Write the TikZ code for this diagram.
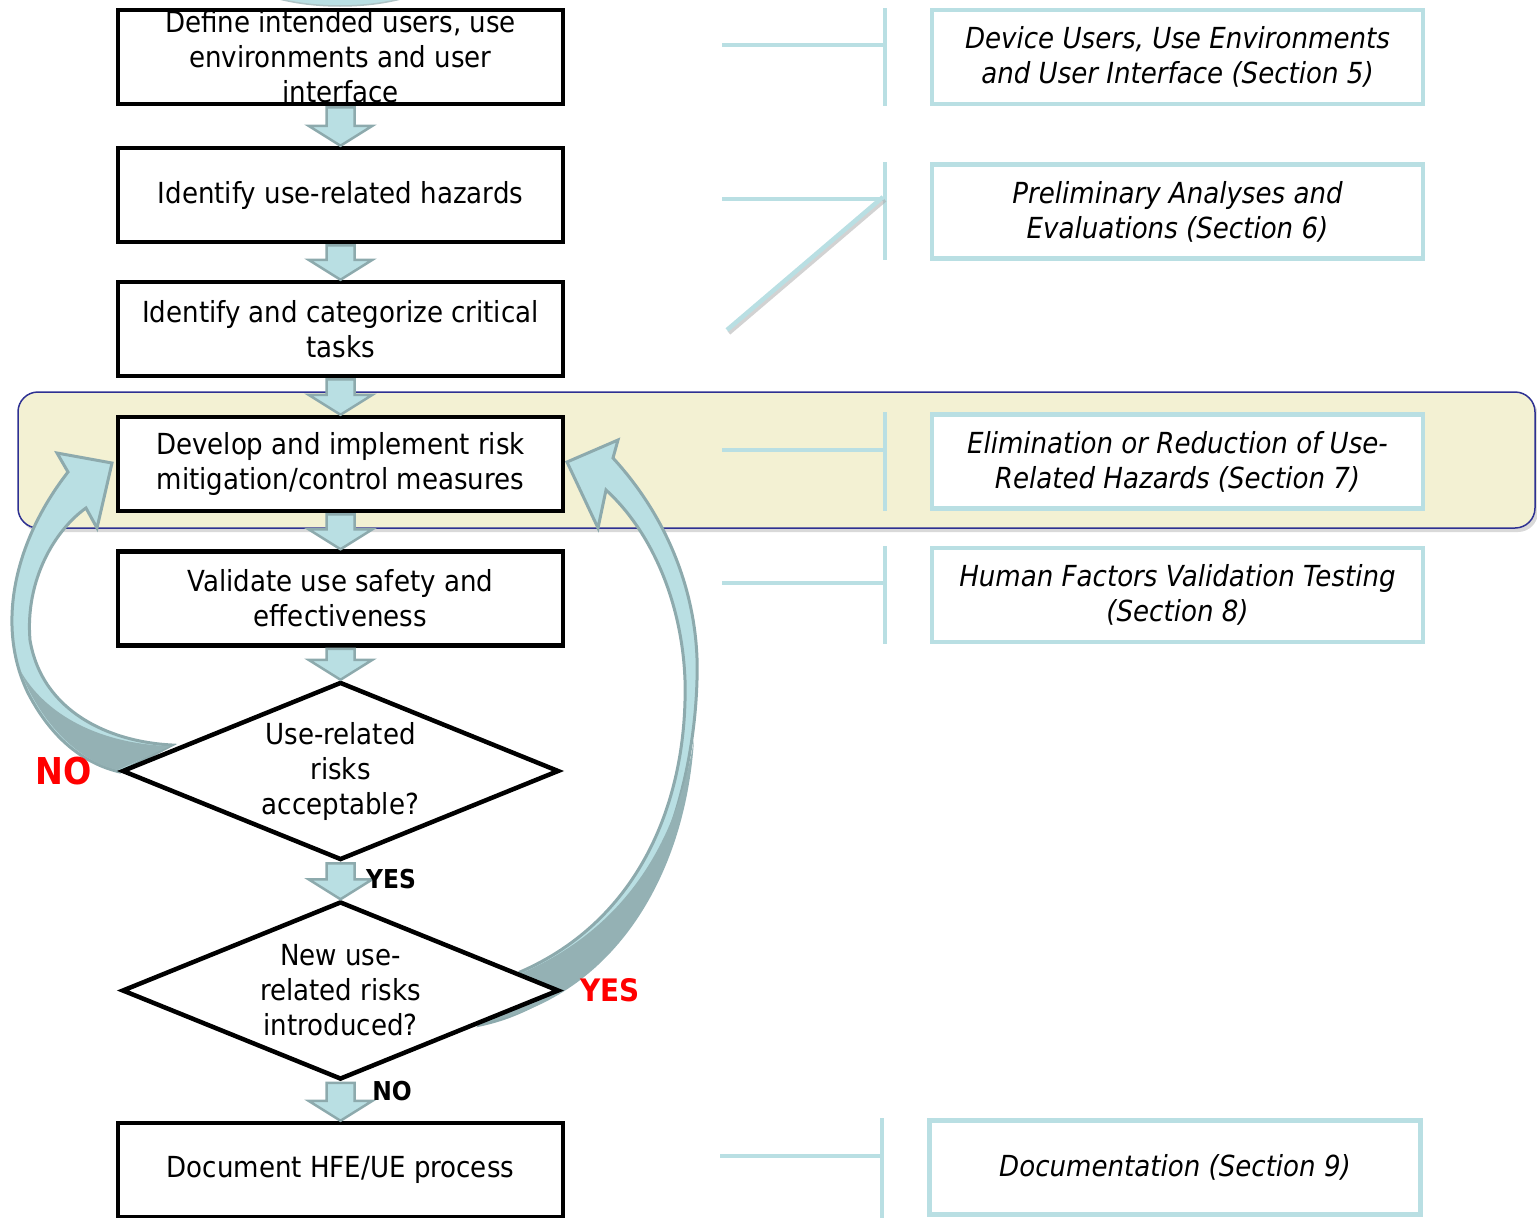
\documentclass[tikz,border=0pt]{standalone}
\usepackage{fontspec}
\setmainfont{DejaVu Sans Condensed}
\usetikzlibrary{shapes.geometric,shadows,calc}
\definecolor{lblue}{HTML}{B9DFE3}
\definecolor{agray}{HTML}{8DAAAD}
\definecolor{adark}{HTML}{94B1B4}
\definecolor{bandfill}{HTML}{F3F1D3}
\definecolor{bandline}{HTML}{2E3192}
\definecolor{nored}{HTML}{FF0000}
\begin{document}
\begin{tikzpicture}[x=1pt,y=-1pt,
  txt/.style={font=\fontsize{29}{35}\selectfont},
  stepbox/.style={txt,draw=black,line width=4.5pt,fill=white,minimum width=445pt,minimum height=94pt,inner xsep=6pt,inner ysep=0pt,align=center},
  dia/.style={txt,diamond,draw=black,line width=4.5pt,fill=white,minimum width=437pt,minimum height=178pt,aspect=2.5,inner sep=0pt,align=center},
  secbox/.style={draw=lblue,line width=4.5pt,fill=white,minimum width=491pt,minimum height=94pt,inner sep=0pt,align=center,font=\fontsize{29}{35}\selectfont\itshape},
  bline/.style={draw=lblue,line width=4.5pt},
  curvearr/.style={fill=lblue,draw=agray,line width=3pt,line join=miter},
  blockarr/.style={fill=lblue,draw=agray,line width=2.5pt,line join=miter,
    to path={let \p1=(\tikztostart),\p2=(\tikztotarget) in
      (\x1-14pt,\y1-1pt) -- (\x1-14pt,\y2+20pt) -- (\x1-32pt,\y2+20pt) -- (\x2,\y2)
      -- (\x1+32pt,\y2+20pt) -- (\x1+14pt,\y2+20pt) -- (\x1+14pt,\y1-1pt) -- cycle}},
  lab/.style={font=\bfseries\fontsize{26}{26}\selectfont,text=black,inner sep=0pt},
  redlab/.style={font=\bfseries\fontsize{#1}{#1}\selectfont,text=nored,inner sep=0pt}
]
\useasboundingbox (0,0) rectangle (1537,1218);

% top partial blob
\begin{scope}
  \clip (0,0) rectangle (1537,1218);
  \fill[lblue] (340,-38) ellipse [x radius=112pt, y radius=44pt];
  \draw[agray!70,line width=1.5pt] (340,-38) ellipse [x radius=112pt, y radius=44pt];
\end{scope}

% yellow band
\node[draw=bandline,line width=1.5pt,fill=bandfill,rounded corners=20pt,
      minimum width=1517pt,minimum height=136pt,
      drop shadow={shadow xshift=3pt,shadow yshift=-4pt,opacity=0.3}] (band) at (776.5,460) {};

% curved arrows
\path[curvearr] (112,463) -- (57,453) -- (68,472)
  .. controls (15,540) and (-5,625) .. (28,693)
  .. controls (55,745) and (90,765) .. (120,772)
  -- (172,745)
  .. controls (110,742) and (42,712) .. (30,640)
  .. controls (25,580) and (55,530) .. (86,508)
  -- (97,528) -- cycle;
\path[fill=adark] (20,670) .. controls (45,735) and (90,765) .. (118,770)
  -- (170,746) .. controls (100,744) and (45,715) .. (20,670) -- cycle;

\path[curvearr] (567,462) -- (618,440) -- (613,458)
  .. controls (670,520) and (700,600) .. (697,680)
  .. controls (693,830) and (620,995) .. (480,1025)
  -- (520,972)
  .. controls (640,920) and (688,800) .. (685,680)
  .. controls (682,600) and (650,530) .. (606,490)
  -- (598,528) -- cycle;
\path[fill=adark] (694,740) .. controls (685,880) and (610,1000) .. (482,1023)
  -- (522,973) .. controls (620,930) and (675,850) .. (694,740) -- cycle;

% left column
\node[stepbox] (b1) at (340.5,57) {Define intended users, use\\environments and user\\interface};
\node[stepbox] (b2) at (340.5,195) {Identify use-related hazards};
\node[stepbox] (b3) at (340.5,329) {Identify and categorize critical\\tasks};
\node[stepbox] (b4) at (340.5,464) {Develop and implement risk\\mitigation/control measures};
\node[stepbox] (b5) at (340.5,598.5) {Validate use safety and\\effectiveness};
\node[dia] (d1) at (340.5,771) {Use-related\\risks\\acceptable?};
\node[dia] (d2) at (340.5,990.5) {New use-\\related risks\\introduced?};
\node[stepbox] (b6) at (340.5,1170) {Document HFE/UE process};

% block arrows
\draw[blockarr] (b1.south) to (b2.north);
\draw[blockarr] (b2.south) to (b3.north);
\draw[blockarr] (b3.south) to (b4.north);
\draw[blockarr] (b4.south) to (b5.north);
\draw[blockarr] (b5.south) to (d1.north);
\draw[blockarr] (d1.south) to (d2.north);
\draw[blockarr] (d2.south) to (b6.north);

% labels
\node[lab] (yes1) at (391,879) {YES};
\node[lab] (no1) at (392,1091) {NO};
\node[redlab=37] (no2) at (64,771) {NO};
\node[redlab=31] (yes2) at (610,990) {YES};

% right column
\node[secbox] (s1) at (1177.5,57) {Device Users, Use Environments\\and User Interface (Section 5)};
\node[secbox] (s2) at (1177.5,211.5) {Preliminary Analyses and\\Evaluations (Section 6)};
\node[secbox] (s3) at (1177.5,461.5) {Elimination or Reduction of Use-\\Related Hazards (Section 7)};
\node[secbox] (s4) at (1177.5,595) {Human Factors Validation Testing\\(Section 8)};
\node[secbox] (s5) at (1175,1167.5) {Documentation (Section 9)};

% brackets
\coordinate (h1) at (722,45);  \coordinate (v1t) at (885,8);   \coordinate (v1b) at (885,106);
\coordinate (h2) at (722,199); \coordinate (v2t) at (885,162); \coordinate (v2b) at (885,260);
\coordinate (h3) at (722,450); \coordinate (v3t) at (885,412); \coordinate (v3b) at (885,511);
\coordinate (h4) at (722,583); \coordinate (v4t) at (885,546); \coordinate (v4b) at (885,644);
\coordinate (h5) at (720,1156); \coordinate (v5t) at (882,1118); \coordinate (v5b) at (882,1218);
\coordinate (dg1) at (727,330); \coordinate (dg2) at (883,197);
\foreach \i in {1,...,5}{
  \draw[bline] (h\i) -- (h\i -| v\i t);
  \draw[bline] (v\i t) -- (v\i b);
}
\draw[black!35,line width=4pt,opacity=0.5] ($(dg1)+(2,3)$) -- ($(dg2)+(2,3)$);
\draw[bline] (dg1) -- (dg2);
\end{tikzpicture}
\end{document}
